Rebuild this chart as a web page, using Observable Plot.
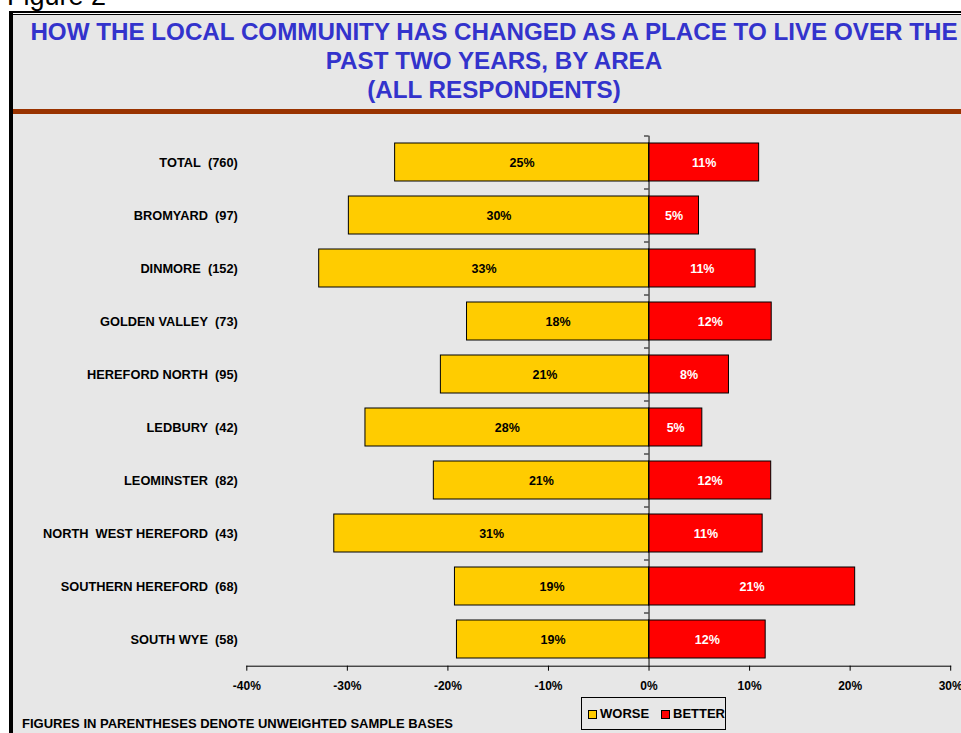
<!DOCTYPE html>
<html>
<head>
<meta charset="utf-8">
<script src="https://cdn.jsdelivr.net/npm/d3@7"></script>
<script src="https://cdn.jsdelivr.net/npm/@observablehq/plot@0.6"></script>
<style>
  html, body { margin: 0; padding: 0; background: #ffffff; }
  body { width: 961px; height: 733px; overflow: hidden; position: relative;
         font-family: "Liberation Sans", Arial, sans-serif; }
  #fig { position: absolute; left: 7px; top: -17px; font-size: 27px; line-height: 27px; color: #000; white-space: nowrap; }
  #frame { position: absolute; left: 9px; top: 11px; width: 1000px; height: 800px;
           background: #e7e7e7; border-top: 2px solid #000; border-left: 4px solid #000; }
  #gap { position: absolute; left: 13px; top: 13px; width: 1000px; height: 1px; background: #ffffff; }
  #line2 { position: absolute; left: 13px; top: 14px; width: 1000px; height: 1px; background: #000; }
  #title { position: absolute; left: 13px; top: 17px; width: 962px; text-align: center;
           color: #3333cc; font-weight: bold; font-size: 24.2px; line-height: 29px; white-space: nowrap; }
  #rule { position: absolute; left: 13px; top: 109px; width: 1000px; height: 4.5px; background: #993300; }
  #chart { position: absolute; left: 0; top: 120px; }
  #chart svg text { white-space: pre; }
  #legend { position: absolute; left: 581px; top: 697px; width: 143px; height: 31px;
            border: 1px solid #000; font-weight: bold; font-size: 13px; color: #000; }
  .sw { position: absolute; top: 12px; width: 7px; height: 7px; border: 1px solid #000; }
  .lt { position: absolute; top: 9px; line-height: 13px; }
  #note { position: absolute; left: 22px; top: 716px; font-weight: bold; font-size: 13px; color: #000; white-space: nowrap; }
</style>
</head>
<body>
<div id="fig">Figure 2</div>
<div id="frame"></div>
<div id="gap"></div>
<div id="line2"></div>
<div id="title">HOW THE LOCAL COMMUNITY HAS CHANGED AS A PLACE TO LIVE OVER THE<br>PAST TWO YEARS, BY AREA<br>(ALL RESPONDENTS)</div>
<div id="rule"></div>
<div id="chart"></div>
<div id="legend"></div>
<div id="note">FIGURES IN PARENTHESES DENOTE UNWEIGHTED SAMPLE BASES</div>
<script>
// ---- data ----
const areas = [
  "TOTAL  (760)",
  "BROMYARD  (97)",
  "DINMORE  (152)",
  "GOLDEN VALLEY  (73)",
  "HEREFORD NORTH  (95)",
  "LEDBURY  (42)",
  "LEOMINSTER  (82)",
  "NORTH  WEST HEREFORD  (43)",
  "SOUTHERN HEREFORD  (68)",
  "SOUTH WYE  (58)"
];
const worse  = [25.25, 29.85, 32.8, 18.1, 20.7, 28.2, 21.4, 31.3, 19.3, 19.1];
const better = [10.95, 4.97, 10.6, 12.2, 7.95, 5.3, 12.15, 11.3, 20.5, 11.6];
const worseLabels  = ["25%", "30%", "33%", "18%", "21%", "28%", "21%", "31%", "19%", "19%"];
const betterLabels = ["11%", "5%", "11%", "12%", "8%", "5%", "12%", "11%", "21%", "12%"];
const xTicks = [-40, -30, -20, -10, 0, 10, 20, 30];
const seriesNames = ["WORSE", "BETTER"];
const seriesColors = ["#ffcc00", "#ff0000"];

// ---- build table ----
const rows = areas.map((a, i) => ({
  area: a.replace(/ /g, "\u00a0"),
  worse: worse[i], better: better[i],
  wl: worseLabels[i], bl: betterLabels[i]
}));
const domainY = rows.map(d => d.area);

const W = 961, H = 613;
const mT = 15.7, mB = 67.3, mL = 246.3, mR = 10.8;
const step = (H - mT - mB) / areas.length;
const font = "Liberation Sans, Arial, sans-serif";

const chart = Plot.plot({
  width: W, height: H,
  marginTop: mT, marginBottom: mB, marginLeft: mL, marginRight: mR,
  style: { background: "transparent", fontFamily: font, overflow: "visible", color: "#000" },
  x: { domain: [-40, 30], ticks: xTicks, tickFormat: d => d + "%" },
  y: { domain: domainY, paddingInner: 0.29, paddingOuter: 0.145 },
  marks: [
    Plot.barX(rows, { y: "area", x1: d => -d.worse, x2: 0, fill: seriesColors[0], stroke: "#000", strokeWidth: 1 }),
    Plot.barX(rows, { y: "area", x1: 0, x2: "better", fill: seriesColors[1], stroke: "#000", strokeWidth: 1 }),
    Plot.ruleX([0], { stroke: "#000", strokeWidth: 1 }),
    Plot.ruleY(rows, { y: "area", x1: -0.45, x2: 0, dy: -step / 2, stroke: "#000", strokeWidth: 1 }),
    Plot.text(rows, { y: "area", x: d => -d.worse / 2, text: "wl", fill: "#000", fontWeight: "bold", fontSize: 12.5 }),
    Plot.text(rows, { y: "area", x: d => d.better / 2, text: "bl", fill: "#fff", fontWeight: "bold", fontSize: 12.5 }),
    Plot.frame({ anchor: "bottom", stroke: "#000", strokeWidth: 1 }),
    Plot.axisX({ ticks: xTicks, tickFormat: d => d + "%", tickSize: 5, tickPadding: 10, label: null,
                 fontWeight: "bold", fontSize: 12, stroke: "#000", fill: "#000" }),
    Plot.axisY({ tickSize: 0, tickPadding: 9, label: null, fontWeight: "bold", fontSize: 12.8, fill: "#000" })
  ]
});
document.getElementById("chart").appendChild(chart);

// ---- legend ----
const legend = document.getElementById("legend");
const swX = [6, 79];
seriesNames.forEach((name, i) => {
  const sw = document.createElement("div");
  sw.className = "sw";
  sw.style.left = swX[i] + "px";
  sw.style.background = seriesColors[i];
  legend.appendChild(sw);
  const t = document.createElement("div");
  t.className = "lt";
  t.style.left = (swX[i] + 12) + "px";
  t.textContent = name;
  legend.appendChild(t);
});
</script>
</body>
</html>
